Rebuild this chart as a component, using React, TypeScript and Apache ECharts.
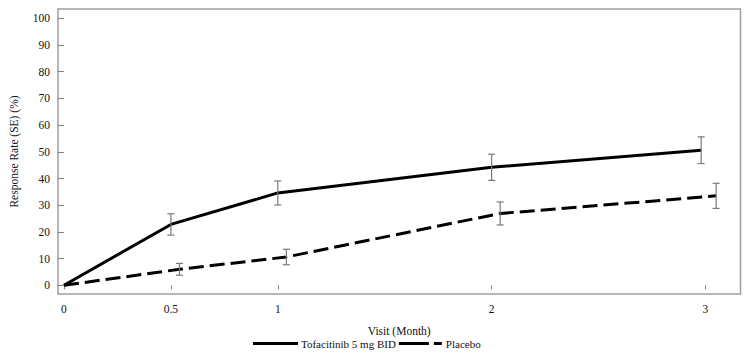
import React, { useEffect, useRef } from "react";
import * as echarts from "echarts";

const seriesNames = ["Tofacitinib 5 mg BID", "Placebo"];
const tofaX = [0, 0.5, 1, 2, 2.98];
const tofaY = [0, 22.8, 34.6, 44.2, 50.6];
const tofaSE = [0, 4.0, 4.5, 4.9, 5.0];
const placeboX = [0, 0.54, 1.04, 2.04, 3.05];
const placeboY = [0, 6.0, 10.6, 26.9, 33.5];
const placeboSE = [0, 2.2, 2.9, 4.3, 4.7];
const xTicks = [0, 0.5, 1, 2, 3];
const yTicks = [0, 10, 20, 30, 40, 50, 60, 70, 80, 90, 100];

const FONT = "Liberation Serif";

function errData(xs: number[], ys: number[], se: number[]) {
  return xs
    .map((x, i) => [x, ys[i] - se[i], ys[i] + se[i]])
    .filter((_, i) => se[i] > 0);
}

const errRender = (params: any, api: any) => {
  const x = api.value(0);
  const lo = api.coord([x, api.value(1)]);
  const hi = api.coord([x, api.value(2)]);
  const w = 3.5;
  const style = { stroke: "#7a7a7a", lineWidth: 1.2 };
  return {
    type: "group",
    children: [
      { type: "line", shape: { x1: lo[0], y1: lo[1], x2: hi[0], y2: hi[1] }, style },
      { type: "line", shape: { x1: lo[0] - w, y1: lo[1], x2: lo[0] + w, y2: lo[1] }, style },
      { type: "line", shape: { x1: hi[0] - w, y1: hi[1], x2: hi[0] + w, y2: hi[1] }, style },
    ],
  };
};

export default function App() {
  const ref = useRef<HTMLDivElement>(null);
  useEffect(() => {
    if (!ref.current) return;
    const chart = echarts.init(ref.current, undefined, { renderer: "svg" });
    chart.setOption({
      animation: false,
      backgroundColor: "#fff",
      textStyle: { fontFamily: FONT },
      grid: {
        left: 52,
        top: 9,
        right: 10.5,
        bottom: 59,
        show: true,
        borderColor: "#a0a0a0",
        borderWidth: 1.5,
        backgroundColor: "transparent",
      },
      legend: {
        left: 253,
        top: 338,
        padding: 0,
        itemWidth: 45,
        itemHeight: 3,
        itemGap: 3,
        textStyle: { fontFamily: FONT, fontSize: 11, color: "#111", padding: [0, 0, 0, -2] },
        data: [
          { name: seriesNames[0], icon: "path://M0,0 H45 V3 H0 Z" },
          { name: seriesNames[1], icon: "path://M0,0 H30 V3 H0 Z M35,0 H43 V3 H35 Z" },
        ],
      },
      xAxis: {
        type: "value",
        min: -0.028,
        max: 3.164,
        name: "Visit (Month)",
        nameLocation: "middle",
        nameGap: 31,
        nameTextStyle: { fontFamily: FONT, fontSize: 11.5, color: "#111" },
        axisLine: { show: false },
        splitLine: { show: false },
        axisTick: { show: true, length: 4, lineStyle: { color: "#808080" }, customValues: xTicks },
        axisLabel: {
          fontFamily: FONT,
          fontSize: 11.5,
          color: "#111",
          margin: 9,
          customValues: xTicks,
          formatter: (v: number) => String(v),
        },
      },
      yAxis: {
        type: "value",
        min: -3.26,
        max: 103.5,
        name: "Response Rate (SE) (%)",
        nameLocation: "middle",
        nameGap: 38,
        nameRotate: 90,
        nameTextStyle: { fontFamily: FONT, fontSize: 11.5, color: "#111" },
        axisLine: { show: false },
        splitLine: { show: false },
        axisTick: { show: true, length: 6, lineStyle: { color: "#808080" }, customValues: yTicks },
        axisLabel: {
          fontFamily: FONT,
          fontSize: 11.5,
          color: "#111",
          margin: 8,
          customValues: yTicks,
          formatter: (v: number) => String(v),
        },
      },
      series: [
        {
          name: seriesNames[0],
          type: "line",
          symbol: "none",
          data: tofaX.map((x, i) => [x, tofaY[i]]),
          lineStyle: { color: "#000", width: 3 },
          itemStyle: { color: "#000" },
          z: 3,
        },
        {
          name: seriesNames[1],
          type: "line",
          symbol: "none",
          data: placeboX.map((x, i) => [x, placeboY[i]]),
          lineStyle: { color: "#000", width: 3, type: [15, 6] },
          itemStyle: { color: "#000" },
          z: 3,
        },
        {
          type: "custom",
          renderItem: errRender,
          data: errData(tofaX, tofaY, tofaSE),
          z: 4,
          silent: true,
        },
        {
          type: "custom",
          renderItem: errRender,
          data: errData(placeboX, placeboY, placeboSE),
          z: 4,
          silent: true,
        },
      ],
    });
    return () => chart.dispose();
  }, []);
  return (
    <div
      ref={ref}
      style={{ position: "fixed", left: 0, top: 0, width: 751, height: 353 }}
    />
  );
}
